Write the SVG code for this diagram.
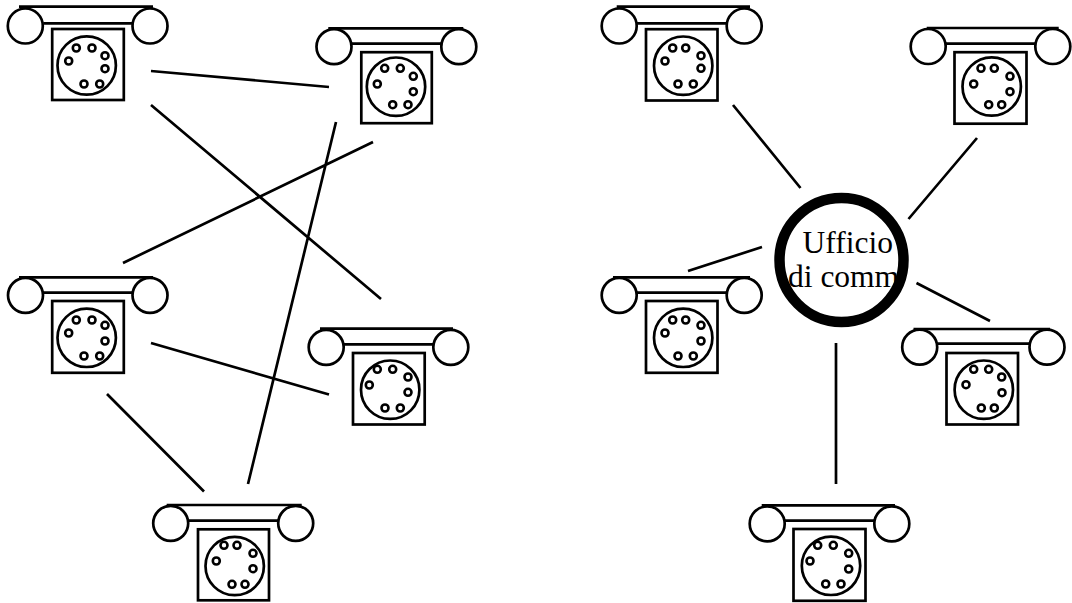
<svg xmlns="http://www.w3.org/2000/svg" width="1072" height="603" viewBox="0 0 1072 603">
<style>
.l{fill:none;stroke:#000;stroke-width:2.7}
.h{fill:none;stroke:#000;stroke-width:2.6}
.k{fill:none;stroke:#000;stroke-width:2.7}
text{font-family:"Liberation Serif",serif;font-size:31.5px;fill:#000}
</style>
<rect width="1072" height="603" fill="#fff"/>
<g id="connectors" class="l">
<path d="M151 71L329 87M151 105L381 299M373 142L123 263M336 122L248 484M151 343L329 394.500M107 394L204 491.500M733 105L800.500 188M977 138L908.500 219M762 247L688 271M916.500 283L990 321M836 343V484"/>
</g>
<g id="phone1">
<path class="k" d="M19 6.700H153M43.300 23.300H132.500"/><circle class="k" cx="25.300" cy="26" r="17.500"/><circle class="k" cx="150" cy="26" r="17.500"/>
<rect class="l" x="52.200" y="29" width="71.600" height="71"/><circle class="l" cx="86.700" cy="65.500" r="29.200"/>
<g class="h"><circle cx="76.300" cy="48" r="3.500"/><circle cx="92" cy="48" r="3.500"/><circle cx="105" cy="55.700" r="3.500"/><circle cx="105" cy="68.700" r="3.500"/><circle cx="99.700" cy="84" r="3.500"/><circle cx="84" cy="84" r="3.500"/><circle cx="68.700" cy="61" r="3.500"/></g>
</g>
<g id="phone2">
<path class="k" d="M328.300 28.300H463.300M352 43.700H441.300"/><circle class="k" cx="334" cy="46.700" r="17.500"/><circle class="k" cx="458.800" cy="46.700" r="17.500"/>
<rect class="l" x="361.300" y="52.200" width="70.500" height="71"/><circle class="l" cx="396" cy="86.700" r="29.200"/>
<g class="h"><circle cx="384.700" cy="68.300" r="3.500"/><circle cx="400.300" cy="68.300" r="3.500"/><circle cx="413.300" cy="76.300" r="3.500"/><circle cx="413.300" cy="91.700" r="3.500"/><circle cx="408" cy="104.700" r="3.500"/><circle cx="392.700" cy="104.700" r="3.500"/><circle cx="377.300" cy="84" r="3.500"/></g>
</g>
<g id="phone3">
<path class="k" d="M19 277.300H153M43.500 292.700H132.500"/><circle class="k" cx="25.500" cy="295.300" r="17.500"/><circle class="k" cx="150" cy="295.300" r="17.500"/>
<rect class="l" x="52.200" y="301" width="71.600" height="71.800"/><circle class="l" cx="86.700" cy="337.800" r="29.200"/>
<g class="h"><circle cx="76.300" cy="320" r="3.500"/><circle cx="92" cy="320" r="3.500"/><circle cx="105" cy="325.300" r="3.500"/><circle cx="105" cy="341" r="3.500"/><circle cx="99.700" cy="356" r="3.500"/><circle cx="84" cy="356" r="3.500"/><circle cx="68.700" cy="333" r="3.500"/></g>
</g>
<g id="phone4">
<path class="k" d="M320 328.700H453M344 344.300H433"/><circle class="k" cx="326.200" cy="347.300" r="17.500"/><circle class="k" cx="450.800" cy="347.300" r="17.500"/>
<rect class="l" x="353" y="353" width="71.700" height="71.500"/><circle class="l" cx="390.200" cy="389.700" r="29.200"/>
<g class="h"><circle cx="377.300" cy="369.300" r="3.500"/><circle cx="392.700" cy="369.300" r="3.500"/><circle cx="408" cy="377" r="3.500"/><circle cx="408" cy="392.300" r="3.500"/><circle cx="400.300" cy="408" r="3.500"/><circle cx="385" cy="408" r="3.500"/><circle cx="369.300" cy="385" r="3.500"/></g>
</g>
<g id="phone5">
<path class="k" d="M166.700 505H301.700M188.700 520.700H278"/><circle class="k" cx="170.700" cy="523.300" r="17.500"/><circle class="k" cx="295.700" cy="523.300" r="17.500"/>
<rect class="l" x="198" y="529.300" width="71" height="71"/><circle class="l" cx="234.700" cy="566" r="29.200"/>
<g class="h"><circle cx="224" cy="545.300" r="3.500"/><circle cx="237" cy="545.300" r="3.500"/><circle cx="253" cy="553.300" r="3.500"/><circle cx="253" cy="568.700" r="3.500"/><circle cx="245" cy="584.300" r="3.500"/><circle cx="232" cy="584.300" r="3.500"/><circle cx="216.300" cy="561" r="3.500"/></g>
</g>
<g id="phone6">
<path class="k" d="M616.700 6.700H750M637 23.300H727"/><circle class="k" cx="619.200" cy="26" r="17.500"/><circle class="k" cx="744.200" cy="26" r="17.500"/>
<rect class="l" x="646" y="29.200" width="71.500" height="71.300"/><circle class="l" cx="683.200" cy="65.700" r="29.200"/>
<g class="h"><circle cx="672.700" cy="48" r="3.500"/><circle cx="685.700" cy="48" r="3.500"/><circle cx="701" cy="55.700" r="3.500"/><circle cx="701" cy="68.300" r="3.500"/><circle cx="693.300" cy="84" r="3.500"/><circle cx="678" cy="84" r="3.500"/><circle cx="665" cy="61" r="3.500"/></g>
</g>
<g id="phone7">
<path class="k" d="M926.700 28H1058.700M946 43.700H1035.500"/><circle class="k" cx="928.200" cy="46.500" r="17.500"/><circle class="k" cx="1052.800" cy="46.500" r="17.500"/>
<rect class="l" x="954.500" y="52.200" width="72" height="71.500"/><circle class="l" cx="991.700" cy="86.500" r="29.200"/>
<g class="h"><circle cx="981" cy="68.300" r="3.500"/><circle cx="994.300" cy="68.300" r="3.500"/><circle cx="1010" cy="76.300" r="3.500"/><circle cx="1010" cy="91.700" r="3.500"/><circle cx="1001.700" cy="104.700" r="3.500"/><circle cx="988.700" cy="104.700" r="3.500"/><circle cx="973.700" cy="84" r="3.500"/></g>
</g>
<g id="phone8">
<path class="k" d="M613 277.300H750M637 292.700H727"/><circle class="k" cx="619.200" cy="295.300" r="17.500"/><circle class="k" cx="744.200" cy="295.300" r="17.500"/>
<rect class="l" x="646" y="301" width="71.500" height="71.800"/><circle class="l" cx="683.200" cy="337.800" r="29.200"/>
<g class="h"><circle cx="672.700" cy="320" r="3.500"/><circle cx="685.700" cy="320" r="3.500"/><circle cx="701" cy="325.300" r="3.500"/><circle cx="701" cy="341" r="3.500"/><circle cx="693.300" cy="356" r="3.500"/><circle cx="678" cy="356" r="3.500"/><circle cx="665" cy="333" r="3.500"/></g>
</g>
<g id="phone9">
<path class="k" d="M913.500 329H1050M938 343.700H1029"/><circle class="k" cx="919.700" cy="347.200" r="17.500"/><circle class="k" cx="1047" cy="347.200" r="17.500"/>
<rect class="l" x="946.500" y="353" width="71.500" height="71.500"/><circle class="l" cx="983.800" cy="389.700" r="29.200"/>
<g class="h"><circle cx="973.700" cy="369.300" r="3.500"/><circle cx="988.700" cy="369.300" r="3.500"/><circle cx="1001.700" cy="377" r="3.500"/><circle cx="1002" cy="392.700" r="3.500"/><circle cx="994.300" cy="408" r="3.500"/><circle cx="981.300" cy="408" r="3.500"/><circle cx="966" cy="384.700" r="3.500"/></g>
</g>
<g id="phone10">
<path class="k" d="M761.700 505.300H895M785 520.700H874"/><circle class="k" cx="767.200" cy="523.800" r="17.500"/><circle class="k" cx="891.800" cy="523.800" r="17.500"/>
<rect class="l" x="793.500" y="529" width="72" height="71.800"/><circle class="l" cx="831" cy="565.800" r="29.200"/>
<g class="h"><circle cx="817.700" cy="545.300" r="3.500"/><circle cx="833.300" cy="545.300" r="3.500"/><circle cx="848.700" cy="553.300" r="3.500"/><circle cx="848.700" cy="569" r="3.500"/><circle cx="841" cy="584" r="3.500"/><circle cx="825.700" cy="584" r="3.500"/><circle cx="810" cy="561" r="3.500"/></g>
</g>
<g id="office">
<text x="802.500" y="252.500">Ufficio</text>
<text x="788" y="286.500">di comm</text>
<circle cx="841.500" cy="260" r="62" fill="none" stroke="#000" stroke-width="10.500"/>
</g>
</svg>
